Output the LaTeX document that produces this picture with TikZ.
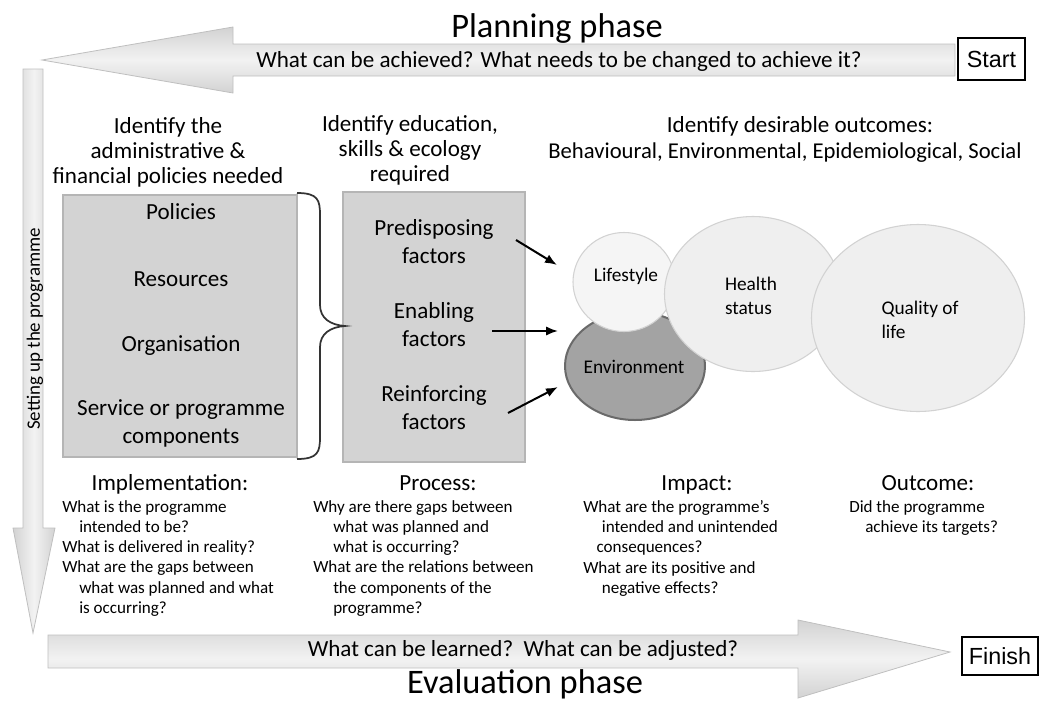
\documentclass[tikz,border=0pt]{standalone}
\usepackage{fontspec}
\setmainfont{Carlito}
\newfontfamily\arialfont{Liberation Sans}
\usetikzlibrary{arrows.meta,shapes.geometric}
\definecolor{panelgray}{HTML}{D3D3D3}
\definecolor{paneledge}{HTML}{B5B5B5}
\definecolor{bubble}{HTML}{EFEFEF}
\definecolor{bubbleedge}{HTML}{D2D2D2}
\definecolor{envfill}{HTML}{A3A3A3}
\definecolor{envedge}{HTML}{6A6A6A}
\begin{document}
\begin{tikzpicture}[x=0.75pt,y=-0.75pt,
  phasetitle/.style={font=\fontsize{25.8}{30}\selectfont, inner sep=0},
  phasesub/.style={font=\fontsize{17.3}{20}\selectfont, inner sep=0},
  termbox/.style={draw=black, line width=0.8pt, fill=white, font=\arialfont\fontsize{17.5}{20}\selectfont, inner sep=0},
  heading/.style={font=\fontsize{17.3}{18.75}\selectfont, align=center, inner sep=0},
  panel/.style={fill=panelgray, draw=paneledge, line width=1pt, inner sep=0},
  item/.style={font=\fontsize{17.3}{21}\selectfont, align=center, inner sep=0},
  bubblestyle/.style={ellipse, fill=bubble, draw=bubbleedge, line width=0.8pt, inner sep=0},
  bubbletext/.style={font=\fontsize{14.5}{18}\selectfont, align=left, inner sep=0},
  qhead/.style={font=\fontsize{17.3}{20}\selectfont, inner sep=0, anchor=base},
  qtext/.style={font=\fontsize{12.8}{15.2}\selectfont, align=left, inner sep=0, anchor=north west},
  bigarrow/.style={draw=gray!50, line width=0.6pt},
  pointer/.style={line width=1.5pt, -{Latex[length=9pt,width=7pt]}},
  bracestyle/.style={line width=1.3pt, draw=black!80}
]
\useasboundingbox (0,0) rectangle (1039,700);

% phase arrows
\path[bigarrow, top color=gray!35, bottom color=gray!35, middle color=gray!10]
  (42,60) -- (233,27) -- (233,44) -- (955,44) -- (955,76) -- (233,76) -- (233,93) -- cycle;
\path[bigarrow, left color=gray!35, right color=gray!35, middle color=gray!10]
  (23,69) -- (43,69) -- (43,528) -- (55,528) -- (33,633) -- (13,528) -- (23,528) -- cycle;
\path[bigarrow, top color=gray!35, bottom color=gray!35, middle color=gray!10]
  (48,635) -- (798,635) -- (798,620) -- (950,652) -- (798,698) -- (798,668) -- (48,668) -- cycle;

\node[phasetitle] (plan) at (557,29) {Planning phase};
\node[phasesub] (plansub) at (559,61) {What can be achieved? What needs to be changed to achieve it?};
\node[termbox, minimum width=50.25pt, minimum height=31.5pt] (start) at (991.5,59) {Start};
\node[phasesub] (evalsub) at (523,650) {What can be learned?\ \ What can be adjusted?};
\node[phasetitle] (eval) at (525,684) {Evaluation phase};
\node[termbox, minimum width=57pt, minimum height=28.5pt] (finish) at (1000,656) {Finish};
\node[font=\fontsize{14.2}{16}\selectfont, rotate=90, inner sep=0] (setup) at (35,329) {Setting up the programme};

% headings
\node[heading] (h1) at (168,152) {Identify the\\administrative \&\\financial policies needed};
\node[heading] (h2) at (410,150) {Identify education,\\skills \& ecology\\required};
\node[heading] (h3) at (800,126) {Identify desirable outcomes:};
\node[font=\fontsize{17}{20}\selectfont, inner sep=0] (h3b) at (785,153) {Behavioural, Environmental, Epidemiological, Social};

% panels
\node[panel, minimum width=175.5pt, minimum height=196.5pt] (leftpanel) at (180,326) {};
\node[panel, minimum width=136.5pt, minimum height=202.5pt] (midpanel) at (434,327) {};

\node[item] (policies) at (181,212) {Policies};
\node[item] (resources) at (181,279) {Resources};
\node[item] (organisation) at (181,346) {Organisation};
\node[item] (service) at (181,423) {Service or programme\\components};

\node[item] (predis) at (434,242) {Predisposing\\factors};
\node[item] (enabl) at (434,325) {Enabling\\factors};
\node[item] (reinf) at (434,408) {Reinforcing\\factors};

% brace
\draw[bracestyle] (297,193) .. controls (318,193) and (320,200) .. (320,215) -- (320,305)
  .. controls (320,318) and (330,325) .. (345,326)
  .. controls (330,327) and (320,334) .. (320,347) -- (320,437)
  .. controls (320,452) and (318,459) .. (297,459);

% bubbles
\node[ellipse, fill=envfill, draw=envedge, line width=1.5pt, minimum width=105pt, minimum height=81pt, inner sep=0] (env) at (635,366) {};
\node[bubblestyle, fill=bubble!60!white, minimum width=76.5pt, minimum height=74.25pt] (life) at (624,282) {};
\node[bubblestyle, minimum width=132.75pt, minimum height=116.25pt] (health) at (753,294) {};
\node[bubblestyle, minimum width=159.75pt, minimum height=140.25pt] (qol) at (918,318) {};

\node[bubbletext] (lifet) at (626,276) {Lifestyle};
\node[bubbletext] (envt) at (634,367) {Environment};
\node[bubbletext] (healtht) at (751,296) {Health\\status};
\node[bubbletext] (qolt) at (920,320) {Quality of\\life};

% pointers
\coordinate (p1s) at (516,240); \coordinate (p1e) at (557,265);
\coordinate (p2s) at (492,331); \coordinate (p2e) at (558,331);
\coordinate (p3s) at (508,413); \coordinate (p3e) at (558,387);
\draw[pointer] (p1s) -- (p1e);
\draw[pointer] (p2s) -- (p2e);
\draw[pointer] (p3s) -- (p3e);

% evaluation questions
\node[qhead] (impl) at (170,490) {Implementation:};
\node[qtext] (implq) at (62,500) {What is the programme\\\hspace*{12.75pt}intended to be?\\What is delivered in reality?\\What are the gaps between\\\hspace*{12.75pt}what was planned and what\\\hspace*{12.75pt}is occurring?};
\node[qhead] (proc) at (438,490) {Process:};
\node[qtext] (procq) at (313,500) {Why are there gaps between\\\hspace*{15pt}what was planned and\\\hspace*{15pt}what is occurring?\\What are the relations between\\\hspace*{15pt}the components of the\\\hspace*{15pt}programme?};
\node[qhead] (imp) at (697,490) {Impact:};
\node[qtext] (impq) at (583,500) {What are the programme’s\\\hspace*{14pt}intended and unintended\\\hspace*{10pt}consequences?\\What are its positive and\\\hspace*{14pt}negative effects?};
\node[qhead] (out) at (928,490) {Outcome:};
\node[qtext] (outq) at (849,500) {Did the programme\\\hspace*{12pt}achieve its targets?};
\end{tikzpicture}
\end{document}
